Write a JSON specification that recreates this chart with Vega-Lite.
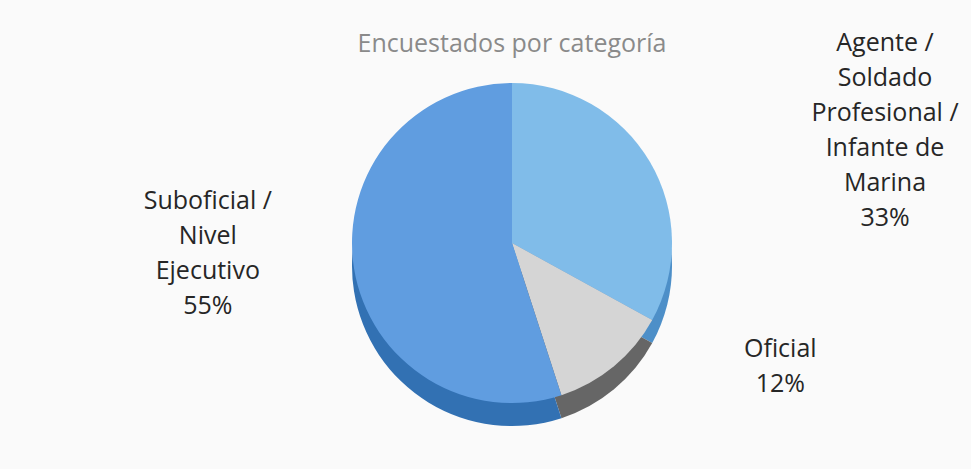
{
  "$schema": "https://vega.github.io/schema/vega-lite/v6.json",
  "autosize": {"type": "none"},
  "width": 918,
  "height": 346,
  "padding": {"left": 53, "top": 70, "right": 0, "bottom": 53},
  "background": "#fafafa",
  "config": {"view": {"stroke": null}},
  "data": {
    "values": [
      {"category": "Agente / Soldado Profesional / Infante de Marina", "label": "Agente /\nSoldado\nProfesional /\nInfante de\nMarina\n33%", "value": 33, "order": 1},
      {"category": "Oficial", "label": "Oficial\n12%", "value": 12, "order": 2},
      {"category": "Suboficial / Nivel Ejecutivo", "label": "Suboficial /\nNivel\nEjecutivo\n55%", "value": 55, "order": 3}
    ]
  },
  "transform": [
    {"stack": "value", "groupby": [], "sort": [{"field": "order", "order": "ascending"}], "as": ["v0", "v1"]}
  ],
  "layer": [
    {
      "mark": {"type": "arc", "radius": 160, "yOffset": 23, "stroke": null},
      "encoding": {
        "theta": {"field": "v0", "type": "quantitative", "scale": {"domain": [0, 100]}},
        "theta2": {"field": "v1"},
        "fill": {
          "field": "category", "type": "nominal", "legend": null,
          "scale": {
            "domain": ["Agente / Soldado Profesional / Infante de Marina", "Oficial", "Suboficial / Nivel Ejecutivo"],
            "range": ["#4d8fc8", "#666666", "#3271b3"]
          }
        }
      }
    },
    {
      "mark": {"type": "arc", "radius": 160, "stroke": null},
      "encoding": {
        "theta": {"field": "v0", "type": "quantitative", "scale": {"domain": [0, 100]}},
        "theta2": {"field": "v1"},
        "color": {
          "field": "category", "type": "nominal", "legend": null,
          "scale": {
            "domain": ["Agente / Soldado Profesional / Infante de Marina", "Oficial", "Suboficial / Nivel Ejecutivo"],
            "range": ["#80bce9", "#d5d5d5", "#609de0"]
          }
        }
      }
    },
    {
      "transform": [{"filter": "datum.order == 1"}],
      "mark": {"type": "text", "font": "Open Sans", "fontSize": 25, "align": "center", "baseline": "alphabetic", "color": "#8a8a8a", "dy": -191},
      "encoding": {
        "text": {"value": "Encuestados por categoría"}
      }
    },
    {
      "transform": [{"filter": "datum.order == 1"}],
      "mark": {"type": "text", "font": "Open Sans", "fontSize": 25, "lineHeight": 35, "lineBreak": "\n", "align": "center", "baseline": "middle", "color": "#262626", "radius": 200, "dx": 373, "dy": 0},
      "encoding": {
        "theta": {"field": "v0", "type": "quantitative", "scale": {"domain": [0, 100]}},
        "text": {"field": "label"}
      }
    },
    {
      "transform": [{"filter": "datum.order == 2"}],
      "mark": {"type": "text", "font": "Open Sans", "fontSize": 25, "lineHeight": 35, "lineBreak": "\n", "align": "center", "baseline": "middle", "color": "#262626", "radius": 200, "dx": 93, "dy": 10},
      "encoding": {
        "theta": {"field": "v0", "type": "quantitative", "scale": {"domain": [0, 100]}},
        "text": {"field": "label"}
      }
    },
    {
      "transform": [{"filter": "datum.order == 3"}],
      "mark": {"type": "text", "font": "Open Sans", "fontSize": 25, "lineHeight": 35, "lineBreak": "\n", "align": "center", "baseline": "middle", "color": "#262626", "radius": 200, "dx": -366, "dy": -232},
      "encoding": {
        "theta": {"field": "v0", "type": "quantitative", "scale": {"domain": [0, 100]}},
        "text": {"field": "label"}
      }
    }
  ]
}
